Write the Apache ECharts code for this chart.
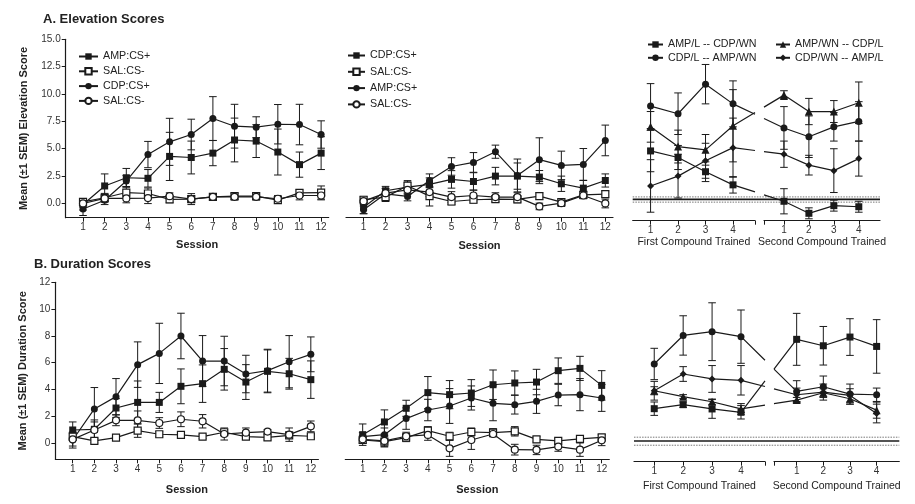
<!DOCTYPE html>
<html><head><meta charset="utf-8">
<script src="https://cdn.jsdelivr.net/npm/echarts@6/dist/echarts.min.js"></script>
<style>html,body{margin:0;padding:0;background:#fff}#c{width:915px;height:504px}</style>
</head><body><div id="c"></div>
<script>
// ---------- data ----------
const sessions = [1,2,3,4,5,6,7,8,9,10,11,12];
const blocks = [1,2,3,4];
const elevTicks = [0, 2.5, 5, 7.5, 10, 12.5, 15];
const durTicks = [0, 2, 4, 6, 8, 10, 12];

// A. Elevation – left panel
const elevL_AmpCS = [-0.1, 1.6, 2.35, 2.3, 4.3, 4.2, 4.6, 5.8, 5.7, 4.7, 3.55, 4.6];
const elevL_AmpCS_sem = [0.5, 1.1, 0.85, 0.8, 2.2, 1.5, 1.15, 2.0, 1.5, 2.1, 1.15, 1.5];
const elevL_SalSq = [0.15, 0.52, 1.0, 0.91, 0.37, 0.4, 0.61, 0.67, 0.67, 0.3, 0.97, 1.0];
const elevL_SalSq_sem = [0.3, 0.4, 0.5, 0.5, 0.3, 0.3, 0.3, 0.3, 0.3, 0.3, 0.3, 0.6];
const elevL_CdpCS = [-0.5, 0.3, 2.05, 4.47, 5.63, 6.3, 7.76, 7.06, 6.97, 7.24, 7.21, 6.3];
const elevL_CdpCS_sem = [0.6, 0.4, 0.5, 1.2, 2.15, 1.4, 2.0, 2.0, 0.95, 1.8, 1.85, 1.25];
const elevL_SalCi = [0.0, 0.46, 0.46, 0.49, 0.67, 0.4, 0.61, 0.61, 0.61, 0.43, 0.73, 0.73];
const elevL_SalCi_sem = [0.3, 0.3, 0.4, 0.5, 0.3, 0.5, 0.3, 0.3, 0.3, 0.3, 0.4, 0.4];

// A. Elevation – middle panel
const elevM_CdpCS = [-0.34, 1.16, 1.49, 1.74, 2.2, 2.01, 2.5, 2.5, 2.41, 1.8, 1.4, 2.1];
const elevM_CdpCS_sem = [0.6, 0.4, 0.6, 0.6, 0.8, 0.8, 0.8, 1.2, 0.6, 0.7, 0.7, 0.6];
const elevM_SalSq = [0.34, 0.58, 1.62, 0.67, 0.18, 0.34, 0.4, 0.37, 0.67, 0.12, 0.79, 0.85];
const elevM_SalSq_sem = [0.3, 0.4, 0.35, 0.9, 0.3, 0.3, 0.3, 0.3, 0.3, 0.3, 0.3, 0.3];
const elevM_AmpCS = [-0.58, 0.88, 0.64, 2.1, 3.38, 3.75, 4.73, 2.56, 4.0, 3.48, 3.57, 5.76];
const elevM_AmpCS_sem = [0.35, 0.5, 0.4, 0.6, 0.8, 0.9, 0.6, 1.5, 2.0, 1.3, 1.45, 1.4];
const elevM_SalCi = [0.21, 0.94, 1.25, 1.04, 0.58, 0.73, 0.58, 0.58, -0.27, 0.03, 0.73, 0.0];
const elevM_SalCi_sem = [0.3, 0.4, 0.4, 0.4, 0.5, 0.5, 0.4, 0.4, 0.3, 0.3, 0.3, 0.4];

// A. Elevation – right panel (first / second compound)
const elevR_AmpL_1 = [4.8, 4.2, 2.9, 1.7],  elevR_AmpL_2 = [0.2, -0.9, -0.2, -0.3];
const elevR_AmpL_1s = [1.9, 1.1, 0.9, 0.75], elevR_AmpL_2s = [1.15, 0.5, 0.5, 0.5];
const elevR_AmpWN_1 = [7.0, 5.2, 4.9, 7.1], elevR_AmpWN_2 = [9.9, 8.4, 8.4, 9.2];
const elevR_AmpWN_1s = [1.4, 1.5, 1.4, 3.3], elevR_AmpWN_2s = [0.4, 1.2, 1.0, 1.9];
const elevR_CdpL_1 = [8.9, 8.2, 10.9, 9.1], elevR_CdpL_2 = [6.9, 6.1, 7.0, 7.5];
const elevR_CdpL_1s = [2.05, 1.9, 1.8, 2.1], elevR_CdpL_2s = [1.95, 1.9, 1.3, 1.8];
const elevR_CdpWN_1 = [1.6, 2.5, 3.9, 5.1], elevR_CdpWN_2 = [4.5, 3.5, 3.0, 4.1];
const elevR_CdpWN_1s = [2.4, 2.0, 1.6, 2.7], elevR_CdpWN_2s = [1.2, 0.9, 2.0, 1.6];
const elevRef = [0.12, 0.37, 0.6];   // lower SEM, mean, upper SEM

// B. Duration – left panel
const durL_AmpCS = [0.97, 1.02, 2.61, 3.03, 3.03, 4.23, 4.43, 5.5, 4.55, 5.35, 5.17, 4.73];
const durL_AmpCS_sem = [0.6, 0.7, 0.7, 1.6, 0.75, 1.3, 1.4, 1.55, 1.3, 1.6, 1.15, 1.4];
const durL_SalSq = [0.47, 0.15, 0.4, 0.92, 0.65, 0.6, 0.47, 0.8, 0.47, 0.42, 0.57, 0.5];
const durL_SalSq_sem = [0.25, 0.15, 0.2, 0.5, 0.2, 0.2, 0.15, 0.2, 0.2, 0.2, 0.2, 0.15];
const durL_CdpCS = [0.22, 2.54, 3.46, 5.85, 6.69, 7.99, 6.12, 6.12, 5.15, 5.4, 6.07, 6.62];
const durL_CdpCS_sem = [0.6, 1.6, 1.35, 1.7, 2.25, 1.7, 1.9, 1.85, 1.4, 1.6, 1.95, 1.3];
const durL_SalCi = [0.27, 0.97, 1.69, 1.69, 1.49, 1.77, 1.62, 0.67, 0.77, 0.85, 0.62, 1.24];
const durL_SalCi_sem = [0.5, 0.6, 0.4, 0.7, 0.4, 0.55, 0.5, 0.45, 0.35, 0.15, 0.5, 0.4];

// B. Duration – middle panel
const durM_CdpCS = [0.62, 1.57, 2.59, 3.76, 3.61, 3.73, 4.35, 4.48, 4.55, 5.4, 5.57, 4.3];
const durM_CdpCS_sem = [0.8, 0.9, 0.6, 1.2, 1.05, 1.0, 1.1, 0.9, 0.95, 0.95, 0.9, 1.1];
const durM_SalSq = [0.22, 0.1, 0.4, 0.92, 0.5, 0.82, 0.77, 0.87, 0.27, 0.15, 0.3, 0.42];
const durM_SalSq_sem = [0.2, 0.4, 0.3, 0.3, 0.3, 0.3, 0.3, 0.35, 0.2, 0.2, 0.2, 0.2];
const durM_AmpCS = [0.47, 0.62, 1.82, 2.46, 2.76, 3.36, 2.96, 2.86, 3.11, 3.58, 3.61, 3.36];
const durM_AmpCS_sem = [0.3, 0.5, 0.8, 0.8, 1.3, 0.9, 1.3, 0.7, 0.9, 0.8, 1.2, 1.0];
const durM_SalCi = [0.27, 0.15, 0.5, 0.6, -0.4, 0.22, 0.67, -0.5, -0.52, -0.27, -0.5, 0.2];
const durM_SalCi_sem = [0.3, 0.4, 0.3, 0.4, 0.6, 0.7, 0.2, 0.4, 0.35, 0.35, 0.5, 0.4];

// B. Duration – right panel
const durR_AmpL_1 = [2.56, 2.86, 2.54, 2.29], durR_AmpL_2 = [7.74, 7.26, 7.91, 7.21];
const durR_AmpL_1s = [0.5, 0.2, 0.7, 0.5], durR_AmpL_2s = [1.94, 1.44, 1.37, 2.0];
const durR_AmpWN_1 = [3.9, 3.46, 3.08, 2.54], durR_AmpWN_2 = [3.2, 3.75, 3.3, 2.45];
const durR_AmpWN_1s = [0.3, 0.15, 0.2, 0.4], durR_AmpWN_2s = [0.2, 0.3, 0.4, 0.6];
const durR_CdpL_1 = [5.9, 8.03, 8.31, 7.94], durR_CdpL_2 = [3.85, 4.2, 3.65, 3.6];
const durR_CdpL_1s = [1.17, 1.47, 2.16, 1.99], durR_CdpL_2s = [0.8, 0.8, 0.75, 0.5];
const durR_CdpWN_1 = [3.9, 5.15, 4.78, 4.68], durR_CdpWN_2 = [3.6, 3.8, 3.55, 2.2];
const durR_CdpWN_1s = [0.7, 0.55, 1.0, 1.1], durR_CdpWN_2s = [0.5, 0.6, 0.5, 0.7];
const durRef = [-0.17, 0.15, 0.43];

// ---------- build ----------
const FONT = '"Liberation Sans", Arial, sans-serif';
const INK = '#1a1a1a';
const grids = [], xAxes = [], yAxes = [], series = [];

function addGrid(box, xa, ya) {
  grids.push(Object.assign({outerBoundsMode: 'none', containLabel: false}, box));
  const gi = grids.length - 1;
  xAxes.push(Object.assign({gridIndex: gi}, xa));
  yAxes.push(Object.assign({gridIndex: gi}, ya));
  return gi;
}
function xDef(min, max, labels, ticks, name, nameGap, nameStyle) {
  return {type: 'value', min, max, name, nameLocation: 'middle', nameGap,
    nameTextStyle: Object.assign({fontFamily: FONT, fontSize: 11, fontWeight: 'bold', color: '#222'}, nameStyle || {}),
    axisLine: {show: true, onZero: false, lineStyle: {color: INK, width: 1.2}},
    axisTick: {show: true, length: 4, customValues: ticks, lineStyle: {color: INK, width: 1}},
    axisLabel: {show: true, customValues: labels, fontSize: 10, fontFamily: FONT, color: '#333', margin: 5},
    splitLine: {show: false}};
}
function xHidden(min, max) { return {type: 'value', min, max, show: false, splitLine: {show: false}}; }
function yDef(min, max, ticks, fmt, name, nameGap) {
  return {type: 'value', min, max, name, nameLocation: 'middle', nameGap,
    nameTextStyle: {fontFamily: FONT, fontSize: 11, fontWeight: 'bold', color: '#222'},
    axisLine: {show: true, onZero: false, lineStyle: {color: INK, width: 1.2}},
    axisTick: {show: true, length: 4, customValues: ticks, lineStyle: {color: INK, width: 1}},
    axisLabel: {show: true, customValues: ticks, formatter: fmt, fontSize: 10, fontFamily: FONT, color: '#333', margin: 5},
    splitLine: {show: false}};
}
function yHidden(min, max) { return {type: 'value', min, max, show: false, splitLine: {show: false}}; }

function line(name, gi, xs, ys, symbol, open) {
  series.push({type: 'line', name, xAxisIndex: gi, yAxisIndex: gi,
    data: xs.map((x, i) => [x, ys[i]]), symbol, symbolSize: symbol === 'triangle' ? 8 : 7,
    lineStyle: {color: INK, width: 1.2},
    itemStyle: open ? {color: '#fff', borderColor: INK, borderWidth: 1.2} : {color: INK, borderWidth: 0},
    z: 3, silent: true, animation: false});
}
function err(gi, xs, ys, es) {
  series.push({type: 'custom', xAxisIndex: gi, yAxisIndex: gi, clip: false,
    data: xs.map((x, i) => [x, ys[i] - es[i], ys[i] + es[i]]),
    renderItem: (p, api) => {
      const lo = api.coord([api.value(0), api.value(1)]);
      const hi = api.coord([api.value(0), api.value(2)]);
      const w = 3.8, st = {stroke: INK, lineWidth: 1};
      return {type: 'group', children: [
        {type: 'line', shape: {x1: lo[0], y1: lo[1], x2: hi[0], y2: hi[1]}, style: st},
        {type: 'line', shape: {x1: lo[0] - w, y1: lo[1], x2: lo[0] + w, y2: lo[1]}, style: st},
        {type: 'line', shape: {x1: hi[0] - w, y1: hi[1], x2: hi[0] + w, y2: hi[1]}, style: st}]};
    }, z: 2, silent: true, animation: false});
}
function grp(name, gi, xs, ys, es, symbol, open) { err(gi, xs, ys, es); line(name, gi, xs, ys, symbol, open); }
function refLines(gi, vals) {
  series.push({type: 'custom', xAxisIndex: gi, yAxisIndex: gi, clip: false,
    data: vals.map((v, i) => [v, i === 1 ? 1 : 0]),
    renderItem: (p, api) => {
      const l = api.coord([0, api.value(0)]), r = api.coord([1, api.value(0)]);
      const solid = api.value(1) === 1;
      return {type: 'line', shape: {x1: l[0], y1: l[1], x2: r[0], y2: r[1]},
        style: solid ? {stroke: INK, lineWidth: 1.6} : {stroke: '#777', lineWidth: 1, lineDash: [1.5, 1.2]}};
    }, z: 1, silent: true, animation: false});
}
function connectors(id, gi) {
  series.push({id, type: 'custom', xAxisIndex: gi, yAxisIndex: gi, clip: false, data: [],
    renderItem: (p, api) => {
      const a = api.coord([api.value(0), api.value(1)]);
      const b = api.coord([api.value(2), api.value(3)]);
      const g0 = api.coord([api.value(4), 0])[0], g1 = api.coord([api.value(5), 0])[0];
      const L = Math.hypot(b[0] - a[0], b[1] - a[1]);
      const t0 = (g0 - a[0]) / (b[0] - a[0]), t1 = (g1 - a[0]) / (b[0] - a[0]);
      return {type: 'line', shape: {x1: a[0], y1: a[1], x2: b[0], y2: b[1]},
        style: {stroke: INK, lineWidth: 1.2, lineDash: [t0 * L, (t1 - t0) * L, L + 20]}};
    }, z: 2, silent: true, animation: false});
}

const eFmt = v => v.toFixed(1);
const dFmt = v => String(v);
const sideName = {fontWeight: 'normal', fontSize: 10.5};

// Top row
const gTL = addGrid({left: 65.7, top: 39.3, width: 263, height: 178.4},
  xDef(0.2, 12.35, sessions, sessions, 'Session', 22),
  yDef(-1.3, 15, elevTicks, eFmt, 'Mean (±1 SEM) Elevation Score', 36));
const gTM = addGrid({left: 346, top: 39.3, width: 267, height: 178.4},
  xDef(0.2, 12.35, sessions, sessions, 'Session', 23), yHidden(-1.3, 15));
const gTR1 = addGrid({left: 632.7, top: 39.3, width: 122.3, height: 181.4},
  xDef(0.35, 4.8, blocks, blocks.concat([4.8]), 'First Compound Trained', 16, sideName), yHidden(-1.575, 15));
const gTR2 = addGrid({left: 764, top: 39.3, width: 116, height: 181.4},
  xDef(0.2, 4.85, blocks, [0.2].concat(blocks), 'Second Compound Trained', 16, sideName), yHidden(-1.575, 15));
const gTRA = addGrid({left: 632.7, top: 39.3, width: 247.3, height: 181.4}, xHidden(0, 1), yHidden(-1.575, 15));

// Bottom row
const gBL = addGrid({left: 55.4, top: 282.3, width: 263, height: 177},
  xDef(0.2, 12.35, sessions, sessions, 'Session', 25),
  yDef(-1.22, 12, durTicks, dFmt, 'Mean (±1 SEM) Duration Score', 27));
const gBM = addGrid({left: 345.3, top: 282.3, width: 264, height: 177},
  xDef(0.2, 12.35, sessions, sessions, 'Session', 25), yHidden(-1.22, 12));
const gBR1 = addGrid({left: 634, top: 282.3, width: 131, height: 179.4},
  xDef(0.3, 4.83, blocks, blocks.concat([4.83]), 'First Compound Trained', 19, sideName), yHidden(-1.4, 12));
const gBR2 = addGrid({left: 774, top: 282.3, width: 125.3, height: 179.4},
  xDef(0.15, 4.85, blocks, [0.15].concat(blocks), 'Second Compound Trained', 19, sideName), yHidden(-1.4, 12));
const gBRA = addGrid({left: 634, top: 282.3, width: 265.3, height: 179.4}, xHidden(0, 1), yHidden(-1.4, 12));

// series – top left
grp('AMP:CS+', gTL, sessions, elevL_AmpCS, elevL_AmpCS_sem, 'rect', false);
grp('SAL:CS-', gTL, sessions, elevL_SalSq, elevL_SalSq_sem, 'rect', true);
grp('CDP:CS+', gTL, sessions, elevL_CdpCS, elevL_CdpCS_sem, 'circle', false);
grp('SAL:CS-|o', gTL, sessions, elevL_SalCi, elevL_SalCi_sem, 'circle', true);
// top middle
grp('CDP:CS+|m', gTM, sessions, elevM_CdpCS, elevM_CdpCS_sem, 'rect', false);
grp('SAL:CS-|m', gTM, sessions, elevM_SalSq, elevM_SalSq_sem, 'rect', true);
grp('AMP:CS+|m', gTM, sessions, elevM_AmpCS, elevM_AmpCS_sem, 'circle', false);
grp('SAL:CS-|mo', gTM, sessions, elevM_SalCi, elevM_SalCi_sem, 'circle', true);
// top right
refLines(gTRA, elevRef);
connectors('connTop', gTRA);
grp('AMP/L -- CDP/WN', gTR1, blocks, elevR_AmpL_1, elevR_AmpL_1s, 'rect', false);
grp('AMP/L -- CDP/WN', gTR2, blocks, elevR_AmpL_2, elevR_AmpL_2s, 'rect', false);
grp('AMP/WN -- CDP/L', gTR1, blocks, elevR_AmpWN_1, elevR_AmpWN_1s, 'triangle', false);
grp('AMP/WN -- CDP/L', gTR2, blocks, elevR_AmpWN_2, elevR_AmpWN_2s, 'triangle', false);
grp('CDP/L -- AMP/WN', gTR1, blocks, elevR_CdpL_1, elevR_CdpL_1s, 'circle', false);
grp('CDP/L -- AMP/WN', gTR2, blocks, elevR_CdpL_2, elevR_CdpL_2s, 'circle', false);
grp('CDP/WN -- AMP/L', gTR1, blocks, elevR_CdpWN_1, elevR_CdpWN_1s, 'diamond', false);
grp('CDP/WN -- AMP/L', gTR2, blocks, elevR_CdpWN_2, elevR_CdpWN_2s, 'diamond', false);

// bottom left
grp('Dur AMP:CS+', gBL, sessions, durL_AmpCS, durL_AmpCS_sem, 'rect', false);
grp('Dur SAL:CS- sq', gBL, sessions, durL_SalSq, durL_SalSq_sem, 'rect', true);
grp('Dur CDP:CS+', gBL, sessions, durL_CdpCS, durL_CdpCS_sem, 'circle', false);
grp('Dur SAL:CS- ci', gBL, sessions, durL_SalCi, durL_SalCi_sem, 'circle', true);
// bottom middle
grp('Dur CDP:CS+ m', gBM, sessions, durM_CdpCS, durM_CdpCS_sem, 'rect', false);
grp('Dur SAL:CS- m sq', gBM, sessions, durM_SalSq, durM_SalSq_sem, 'rect', true);
grp('Dur AMP:CS+ m', gBM, sessions, durM_AmpCS, durM_AmpCS_sem, 'circle', false);
grp('Dur SAL:CS- m ci', gBM, sessions, durM_SalCi, durM_SalCi_sem, 'circle', true);
// bottom right
refLines(gBRA, durRef);
connectors('connBot', gBRA);
grp('AMP/L -- CDP/WN', gBR1, blocks, durR_AmpL_1, durR_AmpL_1s, 'rect', false);
grp('AMP/L -- CDP/WN', gBR2, blocks, durR_AmpL_2, durR_AmpL_2s, 'rect', false);
grp('AMP/WN -- CDP/L', gBR1, blocks, durR_AmpWN_1, durR_AmpWN_1s, 'triangle', false);
grp('AMP/WN -- CDP/L', gBR2, blocks, durR_AmpWN_2, durR_AmpWN_2s, 'triangle', false);
grp('CDP/L -- AMP/WN', gBR1, blocks, durR_CdpL_1, durR_CdpL_1s, 'circle', false);
grp('CDP/L -- AMP/WN', gBR2, blocks, durR_CdpL_2, durR_CdpL_2s, 'circle', false);
grp('CDP/WN -- AMP/L', gBR1, blocks, durR_CdpWN_1, durR_CdpWN_1s, 'diamond', false);
grp('CDP/WN -- AMP/L', gBR2, blocks, durR_CdpWN_2, durR_CdpWN_2s, 'diamond', false);

const legText = {fontSize: 10.7, fontFamily: FONT, color: '#222', lineHeight: 12};
const legBase = {orient: 'vertical', padding: 0, itemHeight: 8, selectedMode: false,
  formatter: n => n.split('|')[0], textStyle: legText};

const option = {
  backgroundColor: '#fff',
  animation: false,
  title: [
    {text: 'A. Elevation Scores', left: 43, top: 13, padding: 0,
     textStyle: {fontSize: 13, fontWeight: 'bold', fontFamily: FONT, color: '#222'}},
    {text: 'B. Duration Scores', left: 34, top: 258, padding: 0,
     textStyle: {fontSize: 13, fontWeight: 'bold', fontFamily: FONT, color: '#222'}}
  ],
  legend: [
    Object.assign({}, legBase, {left: 78, top: 50.5, itemWidth: 19, itemGap: 2.8,
      data: ['AMP:CS+', 'SAL:CS-', 'CDP:CS+', 'SAL:CS-|o']}),
    Object.assign({}, legBase, {left: 347, top: 49.5, itemWidth: 17, itemGap: 4.3,
      data: ['CDP:CS+|m', 'SAL:CS-|m', 'AMP:CS+|m', 'SAL:CS-|mo']}),
    Object.assign({}, legBase, {left: 647, top: 38.5, itemWidth: 15, itemGap: 1.3,
      data: ['AMP/L -- CDP/WN', 'CDP/L -- AMP/WN']}),
    Object.assign({}, legBase, {left: 775, top: 38.5, itemWidth: 14, itemGap: 1.3,
      data: ['AMP/WN -- CDP/L', 'CDP/WN -- AMP/L']})
  ],
  grid: grids, xAxis: xAxes, yAxis: yAxes, series
};

const chart = echarts.init(document.getElementById('c'), null, {renderer: 'canvas'});
chart.setOption(option);

function px(gi, v) { return chart.convertToPixel({xAxisIndex: gi}, v); }
function toAll(gAll, p) { return chart.convertFromPixel({xAxisIndex: gAll}, p); }
function connRows(g1, g2, gAll, pairs) {
  const xa = toAll(gAll, px(g1, blocks[blocks.length - 1]));
  const xb = toAll(gAll, px(g2, blocks[0]));
  const gs = toAll(gAll, px(g1, xAxes[g1].max));
  const ge = toAll(gAll, px(g2, xAxes[g2].min));
  return pairs.map(([f, s]) => [xa, f[f.length - 1], xb, s[0], gs, ge]);
}
chart.setOption({series: [
  {id: 'connTop', data: connRows(gTR1, gTR2, gTRA, [
    [elevR_AmpL_1, elevR_AmpL_2], [elevR_AmpWN_1, elevR_AmpWN_2],
    [elevR_CdpL_1, elevR_CdpL_2], [elevR_CdpWN_1, elevR_CdpWN_2]])},
  {id: 'connBot', data: connRows(gBR1, gBR2, gBRA, [
    [durR_AmpL_1, durR_AmpL_2], [durR_AmpWN_1, durR_AmpWN_2],
    [durR_CdpL_1, durR_CdpL_2], [durR_CdpWN_1, durR_CdpWN_2]])}
]});
</script>
</body></html>
